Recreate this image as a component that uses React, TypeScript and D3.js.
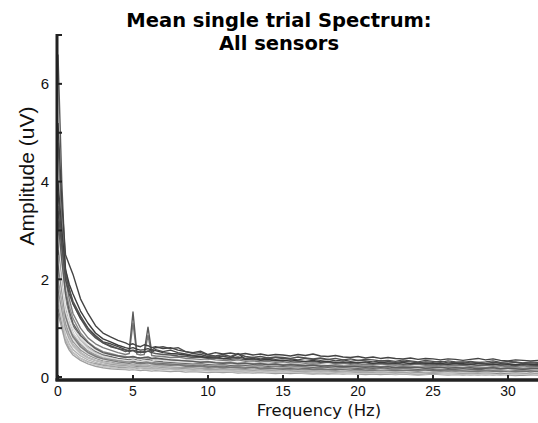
import React from "react";
import * as d3 from "d3";

const W = 538;
const H = 423;

const freqs: number[] = [
  0, 0.25, 0.5, 0.75, 1, 1.5, 2, 2.5, 3, 3.5, 4, 4.5, 4.75, 5, 5.25, 5.5, 5.75, 6, 6.25, 6.5,
  7, 7.5, 8, 8.5, 9, 9.5, 10, 10.5, 11, 11.5,
  12, 12.5, 13, 13.5, 14, 14.5, 15, 15.5, 16, 16.5,
  17, 17.5, 18, 18.5, 19, 19.5, 20, 20.5, 21, 21.5,
  22, 22.5, 23, 23.5, 24, 24.5, 25, 25.5, 26, 26.5,
  27, 27.5, 28, 28.5, 29, 29.5, 30, 30.5, 31, 31.5,
  32,
];

const s01 = [5.2, 3.6, 2.5, 2.3, 2.1, 1.6, 1.3, 1.05, 0.9, 0.82, 0.75, 0.7, 0.66, 0.68, 0.64, 0.62, 0.66, 0.64, 0.6, 0.62,
  0.58, 0.6, 0.55, 0.52, 0.5, 0.53, 0.46, 0.5, 0.47, 0.49,
  0.46, 0.48, 0.45, 0.47, 0.44, 0.46, 0.45, 0.43, 0.46, 0.44,
  0.47, 0.43, 0.42, 0.44, 0.41, 0.4, 0.42, 0.39, 0.41, 0.38,
  0.4, 0.38, 0.37, 0.39, 0.36, 0.38, 0.37, 0.35, 0.37, 0.36,
  0.34, 0.36, 0.38, 0.35, 0.37, 0.34, 0.33, 0.35, 0.34, 0.33, 0.34];
const s02 = [6.6, 4.0, 2.2, 1.8, 1.5, 1.2, 0.95, 0.8, 0.7, 0.62, 0.58, 0.52, 0.55, 1.33, 0.52, 0.5, 0.52, 1.02, 0.5, 0.48,
  0.46, 0.45, 0.43, 0.42, 0.4, 0.41, 0.38, 0.39, 0.37, 0.36,
  0.38, 0.35, 0.36, 0.34, 0.35, 0.33, 0.34, 0.32, 0.33, 0.31,
  0.32, 0.3, 0.31, 0.29, 0.3, 0.28, 0.3, 0.29, 0.27, 0.28,
  0.27, 0.29, 0.26, 0.27, 0.28, 0.26, 0.27, 0.25, 0.26, 0.27,
  0.25, 0.26, 0.24, 0.25, 0.27, 0.24, 0.25, 0.23, 0.25, 0.24, 0.23];
const s03 = [4.8, 3.2, 2.0, 1.6, 1.3, 1.0, 0.8, 0.68, 0.6, 0.55, 0.5, 0.46, 0.48, 1.1, 0.47, 0.45, 0.46, 0.85, 0.44, 0.43,
  0.42, 0.4, 0.41, 0.38, 0.37, 0.36, 0.37, 0.35, 0.34, 0.33,
  0.35, 0.32, 0.33, 0.31, 0.32, 0.3, 0.31, 0.29, 0.3, 0.28,
  0.29, 0.28, 0.3, 0.27, 0.28, 0.26, 0.27, 0.25, 0.26, 0.27,
  0.25, 0.26, 0.24, 0.25, 0.26, 0.24, 0.23, 0.25, 0.24, 0.23,
  0.24, 0.22, 0.23, 0.24, 0.22, 0.23, 0.21, 0.22, 0.23, 0.21, 0.22];
const s04 = [4.0, 3.0, 2.2, 1.9, 1.7, 1.35, 1.1, 0.9, 0.78, 0.72, 0.65, 0.6, 0.58, 0.6, 0.57, 0.55, 0.56, 0.58, 0.55, 0.54,
  0.5, 0.48, 0.47, 0.45, 0.43, 0.42, 0.4, 0.41, 0.38, 0.39,
  0.48, 0.36, 0.38, 0.35, 0.36, 0.34, 0.33, 0.35, 0.33, 0.32,
  0.34, 0.31, 0.32, 0.3, 0.31, 0.3, 0.29, 0.31, 0.28, 0.3,
  0.29, 0.28, 0.3, 0.27, 0.29, 0.28, 0.27, 0.28, 0.26, 0.28,
  0.27, 0.26, 0.28, 0.27, 0.25, 0.27, 0.26, 0.25, 0.27, 0.26, 0.25];
const s05 = [3.5, 2.6, 1.8, 1.45, 1.2, 0.9, 0.72, 0.6, 0.52, 0.48, 0.44, 0.42, 0.4, 0.41, 0.39, 0.38, 0.4, 0.39, 0.37, 0.38,
  0.36, 0.35, 0.34, 0.33, 0.32, 0.31, 0.32, 0.3, 0.29, 0.3,
  0.28, 0.29, 0.27, 0.28, 0.26, 0.27, 0.25, 0.26, 0.25, 0.24,
  0.26, 0.24, 0.23, 0.25, 0.23, 0.22, 0.24, 0.22, 0.23, 0.21,
  0.22, 0.23, 0.21, 0.22, 0.2, 0.21, 0.22, 0.2, 0.21, 0.2,
  0.19, 0.21, 0.2, 0.19, 0.2, 0.18, 0.19, 0.2, 0.18, 0.19, 0.18];
const s06 = [3.0, 2.3, 1.6, 1.25, 1.0, 0.75, 0.6, 0.5, 0.44, 0.4, 0.37, 0.35, 0.34, 0.36, 0.33, 0.32, 0.33, 0.34, 0.31, 0.32,
  0.3, 0.29, 0.28, 0.27, 0.26, 0.27, 0.25, 0.24, 0.25, 0.23,
  0.24, 0.22, 0.23, 0.21, 0.22, 0.2, 0.21, 0.2, 0.19, 0.21,
  0.19, 0.2, 0.18, 0.19, 0.18, 0.17, 0.19, 0.17, 0.18, 0.16,
  0.17, 0.18, 0.16, 0.17, 0.16, 0.15, 0.17, 0.16, 0.15, 0.16,
  0.15, 0.14, 0.16, 0.15, 0.14, 0.15, 0.13, 0.14, 0.15, 0.13, 0.14];
const s07 = [2.6, 2.0, 1.4, 1.1, 0.9, 0.68, 0.55, 0.47, 0.42, 0.38, 0.35, 0.33, 0.32, 0.33, 0.31, 0.3, 0.31, 0.32, 0.3, 0.29,
  0.28, 0.27, 0.26, 0.25, 0.24, 0.25, 0.23, 0.22, 0.23, 0.21,
  0.22, 0.21, 0.2, 0.21, 0.19, 0.2, 0.19, 0.18, 0.19, 0.18,
  0.17, 0.18, 0.17, 0.16, 0.17, 0.16, 0.15, 0.16, 0.15, 0.16,
  0.15, 0.14, 0.15, 0.14, 0.15, 0.14, 0.13, 0.14, 0.13, 0.14,
  0.13, 0.12, 0.13, 0.14, 0.12, 0.13, 0.12, 0.13, 0.12, 0.11, 0.12];
const s08 = [2.2, 1.7, 1.2, 0.95, 0.78, 0.6, 0.48, 0.41, 0.36, 0.33, 0.3, 0.28, 0.27, 0.28, 0.27, 0.26, 0.27, 0.27, 0.25, 0.26,
  0.24, 0.23, 0.22, 0.22, 0.21, 0.2, 0.21, 0.19, 0.2, 0.18,
  0.19, 0.18, 0.17, 0.18, 0.17, 0.16, 0.17, 0.16, 0.15, 0.16,
  0.15, 0.14, 0.15, 0.14, 0.13, 0.14, 0.13, 0.14, 0.12, 0.13,
  0.12, 0.13, 0.12, 0.11, 0.12, 0.11, 0.12, 0.11, 0.1, 0.11,
  0.1, 0.11, 0.1, 0.11, 0.1, 0.09, 0.1, 0.11, 0.1, 0.09, 0.1];
const s09 = [1.8, 1.4, 1.0, 0.8, 0.66, 0.5, 0.4, 0.34, 0.3, 0.27, 0.25, 0.24, 0.23, 0.24, 0.22, 0.22, 0.23, 0.22, 0.21, 0.22,
  0.2, 0.19, 0.19, 0.18, 0.17, 0.18, 0.16, 0.17, 0.16, 0.15,
  0.16, 0.15, 0.14, 0.15, 0.14, 0.13, 0.14, 0.13, 0.12, 0.13,
  0.12, 0.13, 0.12, 0.11, 0.12, 0.11, 0.1, 0.11, 0.1, 0.11,
  0.1, 0.09, 0.1, 0.09, 0.1, 0.09, 0.08, 0.09, 0.1, 0.09,
  0.08, 0.09, 0.08, 0.09, 0.08, 0.07, 0.08, 0.09, 0.08, 0.07, 0.08];
const s10 = [1.5, 1.2, 0.85, 0.68, 0.56, 0.43, 0.35, 0.3, 0.26, 0.24, 0.22, 0.21, 0.2, 0.21, 0.2, 0.19, 0.2, 0.19, 0.18, 0.19,
  0.17, 0.17, 0.16, 0.15, 0.15, 0.14, 0.15, 0.13, 0.14, 0.13,
  0.12, 0.13, 0.12, 0.11, 0.12, 0.11, 0.1, 0.11, 0.1, 0.11,
  0.1, 0.09, 0.1, 0.09, 0.1, 0.09, 0.08, 0.09, 0.08, 0.09,
  0.08, 0.07, 0.08, 0.07, 0.08, 0.07, 0.08, 0.07, 0.06, 0.07,
  0.06, 0.07, 0.06, 0.07, 0.06, 0.05, 0.06, 0.07, 0.06, 0.05, 0.06];
const s11 = [3.8, 2.8, 2.0, 1.7, 1.5, 1.2, 1.0, 0.85, 0.72, 0.68, 0.62, 0.56, 0.54, 0.55, 0.53, 0.5, 0.52, 0.53, 0.5, 0.56,
  0.52, 0.55, 0.5, 0.47, 0.44, 0.46, 0.42, 0.4, 0.43, 0.39,
  0.41, 0.38, 0.4, 0.37, 0.39, 0.36, 0.38, 0.37, 0.35, 0.38,
  0.36, 0.34, 0.36, 0.33, 0.35, 0.32, 0.34, 0.33, 0.31, 0.33,
  0.32, 0.3, 0.32, 0.31, 0.29, 0.31, 0.3, 0.32, 0.29, 0.3,
  0.31, 0.29, 0.3, 0.28, 0.3, 0.29, 0.28, 0.3, 0.28, 0.29, 0.28];
const s12 = [2.9, 2.2, 1.5, 1.2, 1.0, 0.8, 0.65, 0.55, 0.48, 0.45, 0.42, 0.4, 0.39, 0.4, 0.38, 0.37, 0.39, 0.4, 0.38, 0.44,
  0.4, 0.38, 0.36, 0.35, 0.33, 0.34, 0.32, 0.31, 0.33, 0.3,
  0.31, 0.29, 0.3, 0.28, 0.29, 0.27, 0.28, 0.26, 0.27, 0.25,
  0.26, 0.25, 0.24, 0.26, 0.24, 0.23, 0.25, 0.23, 0.24, 0.22,
  0.23, 0.22, 0.24, 0.22, 0.21, 0.23, 0.21, 0.22, 0.2, 0.21,
  0.22, 0.2, 0.21, 0.2, 0.19, 0.21, 0.2, 0.19, 0.2, 0.19, 0.2];
const s13 = [3.2, 2.4, 1.7, 1.35, 1.1, 0.85, 0.7, 0.58, 0.5, 0.46, 0.43, 0.4, 0.41, 0.42, 0.4, 0.39, 0.4, 0.41, 0.38, 0.39,
  0.37, 0.35, 0.34, 0.33, 0.32, 0.3, 0.31, 0.29, 0.28, 0.29,
  0.27, 0.28, 0.26, 0.27, 0.25, 0.26, 0.24, 0.25, 0.24, 0.23,
  0.24, 0.22, 0.23, 0.22, 0.21, 0.22, 0.21, 0.2, 0.21, 0.2,
  0.21, 0.19, 0.2, 0.19, 0.2, 0.18, 0.19, 0.2, 0.18, 0.19,
  0.18, 0.19, 0.17, 0.18, 0.19, 0.17, 0.18, 0.17, 0.16, 0.17, 0.18];
const s14 = [2.4, 1.9, 1.3, 1.05, 0.85, 0.65, 0.52, 0.44, 0.39, 0.36, 0.33, 0.31, 0.3, 0.31, 0.3, 0.29, 0.3, 0.3, 0.28, 0.29,
  0.27, 0.26, 0.25, 0.24, 0.23, 0.22, 0.23, 0.21, 0.22, 0.2,
  0.21, 0.2, 0.19, 0.2, 0.18, 0.19, 0.18, 0.17, 0.18, 0.17,
  0.16, 0.17, 0.16, 0.17, 0.15, 0.16, 0.15, 0.14, 0.15, 0.14,
  0.15, 0.14, 0.13, 0.14, 0.13, 0.14, 0.13, 0.12, 0.13, 0.12,
  0.13, 0.12, 0.11, 0.12, 0.13, 0.11, 0.12, 0.11, 0.12, 0.11, 0.12];
const s15 = [2.0, 1.6, 1.1, 0.88, 0.72, 0.55, 0.45, 0.38, 0.33, 0.31, 0.28, 0.27, 0.26, 0.27, 0.25, 0.25, 0.26, 0.25, 0.24, 0.25,
  0.23, 0.22, 0.21, 0.2, 0.2, 0.19, 0.18, 0.19, 0.17, 0.18,
  0.17, 0.16, 0.17, 0.16, 0.15, 0.16, 0.15, 0.14, 0.15, 0.14,
  0.14, 0.13, 0.14, 0.13, 0.12, 0.13, 0.12, 0.13, 0.12, 0.11,
  0.12, 0.11, 0.12, 0.11, 0.1, 0.11, 0.1, 0.11, 0.1, 0.1,
  0.11, 0.1, 0.09, 0.1, 0.09, 0.1, 0.09, 0.1, 0.09, 0.09, 0.1];
const s16 = [1.7, 1.3, 0.95, 0.75, 0.62, 0.47, 0.38, 0.33, 0.29, 0.26, 0.24, 0.23, 0.22, 0.23, 0.22, 0.21, 0.22, 0.21, 0.2, 0.21,
  0.19, 0.18, 0.18, 0.17, 0.16, 0.17, 0.15, 0.16, 0.15, 0.14,
  0.15, 0.14, 0.13, 0.14, 0.13, 0.12, 0.13, 0.12, 0.13, 0.12,
  0.11, 0.12, 0.11, 0.12, 0.11, 0.1, 0.11, 0.1, 0.11, 0.1,
  0.09, 0.1, 0.09, 0.1, 0.09, 0.1, 0.09, 0.08, 0.09, 0.08,
  0.09, 0.08, 0.09, 0.08, 0.07, 0.08, 0.09, 0.08, 0.07, 0.08, 0.08];
const s17 = [1.3, 1.0, 0.7, 0.55, 0.45, 0.34, 0.27, 0.22, 0.19, 0.17, 0.16, 0.15, 0.14, 0.15, 0.14, 0.13, 0.14, 0.13, 0.12, 0.13,
  0.12, 0.11, 0.12, 0.1, 0.11, 0.1, 0.09, 0.1, 0.09, 0.1,
  0.08, 0.09, 0.08, 0.09, 0.08, 0.07, 0.08, 0.07, 0.08, 0.07,
  0.06, 0.07, 0.06, 0.07, 0.06, 0.07, 0.06, 0.05, 0.06, 0.05,
  0.06, 0.05, 0.06, 0.05, 0.04, 0.05, 0.06, 0.05, 0.04, 0.05,
  0.04, 0.05, 0.04, 0.05, 0.04, 0.05, 0.04, 0.03, 0.04, 0.05, 0.04];
const s18 = [1.6, 1.2, 0.8, 0.62, 0.5, 0.38, 0.3, 0.25, 0.22, 0.2, 0.18, 0.17, 0.18, 0.17, 0.16, 0.17, 0.15, 0.16, 0.15, 0.16,
  0.14, 0.15, 0.13, 0.14, 0.12, 0.13, 0.12, 0.11, 0.12, 0.11,
  0.1, 0.11, 0.1, 0.11, 0.09, 0.1, 0.09, 0.1, 0.09, 0.08,
  0.09, 0.08, 0.09, 0.08, 0.07, 0.08, 0.07, 0.08, 0.07, 0.08,
  0.07, 0.06, 0.07, 0.06, 0.07, 0.06, 0.07, 0.06, 0.05, 0.06,
  0.06, 0.05, 0.06, 0.05, 0.06, 0.05, 0.06, 0.05, 0.06, 0.05, 0.05];
const s19 = [2.3, 1.8, 1.25, 1.0, 0.82, 0.62, 0.5, 0.42, 0.37, 0.34, 0.31, 0.29, 0.28, 0.3, 0.28, 0.27, 0.28, 0.29, 0.27, 0.26,
  0.25, 0.24, 0.25, 0.22, 0.21, 0.22, 0.2, 0.21, 0.19, 0.2,
  0.19, 0.18, 0.2, 0.17, 0.18, 0.17, 0.16, 0.17, 0.16, 0.17,
  0.15, 0.16, 0.15, 0.14, 0.16, 0.14, 0.15, 0.14, 0.13, 0.15,
  0.14, 0.13, 0.14, 0.13, 0.12, 0.14, 0.13, 0.12, 0.13, 0.12,
  0.13, 0.12, 0.11, 0.13, 0.12, 0.11, 0.12, 0.11, 0.12, 0.11, 0.12];
const s20 = [1.9, 1.5, 1.05, 0.82, 0.66, 0.5, 0.4, 0.34, 0.3, 0.28, 0.26, 0.25, 0.24, 0.25, 0.24, 0.23, 0.24, 0.23, 0.22, 0.23,
  0.21, 0.2, 0.21, 0.19, 0.18, 0.19, 0.17, 0.18, 0.16, 0.17,
  0.16, 0.15, 0.16, 0.14, 0.15, 0.14, 0.13, 0.14, 0.13, 0.14,
  0.12, 0.13, 0.12, 0.13, 0.11, 0.12, 0.11, 0.12, 0.11, 0.1,
  0.11, 0.1, 0.11, 0.1, 0.11, 0.1, 0.09, 0.1, 0.09, 0.1,
  0.09, 0.1, 0.09, 0.08, 0.09, 0.1, 0.09, 0.08, 0.09, 0.08, 0.09];
const s21 = [3.4, 2.7, 2.1, 1.8, 1.55, 1.25, 1.0, 0.82, 0.7, 0.64, 0.58, 0.55, 0.52, 0.54, 0.5, 0.52, 0.5, 0.53, 0.55, 0.6,
  0.62, 0.58, 0.6, 0.52, 0.48, 0.5, 0.45, 0.43, 0.46, 0.42,
  0.47, 0.42, 0.4, 0.42, 0.39, 0.41, 0.4, 0.38, 0.41, 0.39,
  0.37, 0.39, 0.36, 0.38, 0.35, 0.37, 0.34, 0.36, 0.35, 0.33,
  0.34, 0.32, 0.35, 0.33, 0.31, 0.34, 0.32, 0.3, 0.33, 0.31,
  0.3, 0.32, 0.3, 0.31, 0.33, 0.3, 0.32, 0.31, 0.29, 0.31, 0.3];
const s22 = [2.5, 1.9, 1.35, 1.1, 0.9, 0.7, 0.56, 0.48, 0.42, 0.39, 0.36, 0.34, 0.33, 0.35, 0.33, 0.32, 0.34, 0.33, 0.32, 0.35,
  0.34, 0.32, 0.31, 0.3, 0.29, 0.3, 0.28, 0.27, 0.28, 0.26,
  0.27, 0.26, 0.25, 0.26, 0.24, 0.25, 0.24, 0.23, 0.24, 0.23,
  0.22, 0.23, 0.22, 0.21, 0.22, 0.21, 0.2, 0.21, 0.2, 0.21,
  0.2, 0.19, 0.2, 0.19, 0.18, 0.2, 0.19, 0.18, 0.19, 0.18,
  0.17, 0.18, 0.19, 0.17, 0.18, 0.17, 0.16, 0.17, 0.18, 0.16, 0.17];
const s23 = [1.4, 1.1, 0.78, 0.6, 0.5, 0.38, 0.31, 0.27, 0.24, 0.22, 0.2, 0.19, 0.19, 0.2, 0.18, 0.18, 0.19, 0.18, 0.17, 0.18,
  0.16, 0.16, 0.15, 0.14, 0.14, 0.13, 0.14, 0.12, 0.13, 0.12,
  0.11, 0.12, 0.11, 0.1, 0.11, 0.1, 0.11, 0.09, 0.1, 0.09,
  0.09, 0.08, 0.09, 0.08, 0.09, 0.08, 0.07, 0.08, 0.07, 0.08,
  0.07, 0.08, 0.07, 0.06, 0.07, 0.06, 0.07, 0.06, 0.07, 0.06,
  0.06, 0.05, 0.06, 0.05, 0.06, 0.05, 0.06, 0.05, 0.04, 0.05, 0.05];
const s24 = [2.8, 2.1, 1.55, 1.25, 1.05, 0.8, 0.64, 0.53, 0.46, 0.42, 0.38, 0.36, 0.35, 0.37, 0.35, 0.34, 0.35, 0.36, 0.34, 0.33,
  0.31, 0.3, 0.29, 0.28, 0.27, 0.28, 0.26, 0.25, 0.26, 0.24,
  0.25, 0.24, 0.23, 0.24, 0.22, 0.23, 0.22, 0.21, 0.22, 0.21,
  0.2, 0.21, 0.2, 0.19, 0.2, 0.19, 0.18, 0.19, 0.18, 0.19,
  0.18, 0.17, 0.18, 0.17, 0.16, 0.17, 0.16, 0.17, 0.16, 0.15,
  0.16, 0.15, 0.16, 0.15, 0.14, 0.15, 0.16, 0.14, 0.15, 0.14, 0.15];

const sensors: number[][] = [
  s17, s23, s10, s18, s16, s09, s20, s15, s08, s14, s19, s07, s06, s24, s22, s12,
  s05, s13, s03, s02, s04, s11, s21, s01,
];
const shades = [
  "#a0a0a0", "#8c8c8c", "#b4b4b4", "#c4c4c4", "#cfcfcf", "#8a8a8a", "#bdbdbd", "#9a9a9a",
  "#d4d4d4", "#a6a6a6", "#7a7a7a", "#6e6e6e", "#c0c0c0", "#686868", "#dcdcdc", "#e6e6e6",
  "#8e8e8e", "#5c5c5c", "#7c7c7c", "#5a5a5a", "#3c3c3c", "#4a4a4a", "#505050", "#444444",
];

const yTicksMajor = [0, 2, 4, 6];
const yTicksMinor = [1, 3, 5, 7];
const xTicks = [0, 5, 10, 15, 20, 25, 30];

export default function App() {
  const x = d3.scaleLinear().domain([0, 32]).range([58, 538]);
  const y = d3.scaleLinear().domain([0, 7]).range([377, 35]);
  const line = d3
    .line<[number, number]>()
    .x((d) => x(d[0]))
    .y((d) => y(d[1]));

  const axisColor = "#222";
  const tickFont = "'Liberation Sans', Arial, sans-serif";
  const narrowFont = "'Liberation Sans Narrow', 'Liberation Sans', Arial, sans-serif";
  const labelFont = "'DejaVu Sans', Verdana, sans-serif";

  return (
    <svg
      width={W}
      height={H}
      style={{ position: "absolute", left: 0, top: 0, background: "#fff" }}
    >
      <text x={279} y={27} textAnchor="middle" fontFamily={labelFont} fontWeight="bold" fontSize={19.5} fill="#000">
        Mean single trial Spectrum:
      </text>
      <text x={279} y={50} textAnchor="middle" fontFamily={labelFont} fontWeight="bold" fontSize={19.5} fill="#000">
        All sensors
      </text>

      <g>
        {sensors.map((vals, i) => {
          const n = Math.min(vals.length, freqs.length);
          const pts: [number, number][] = [];
          for (let k = 0; k < n; k++) pts.push([freqs[k], vals[k]]);
          return (
            <path
              key={i}
              d={line(pts) || ""}
              fill="none"
              stroke={shades[i]}
              strokeWidth={1.4}
              strokeLinejoin="round"
            />
          );
        })}
      </g>

      {/* y axis */}
      <line x1={57} x2={57} y1={y(7) - 1} y2={381} stroke={axisColor} strokeWidth={3} />
      {yTicksMajor.concat(yTicksMinor).map((t) => (
        <line key={"yt" + t} x1={57} x2={62} y1={y(t)} y2={y(t)} stroke={axisColor} strokeWidth={2} />
      ))}
      {yTicksMajor.map((t) => (
        <text key={"yl" + t} x={49} y={y(t) + 5.5} textAnchor="end" fontFamily={tickFont} fontSize={15} fill="#111">
          {t}
        </text>
      ))}

      {/* x axis */}
      <line x1={55.5} x2={538} y1={380} y2={380} stroke={axisColor} strokeWidth={3.5} />
      {xTicks.map((t) => (
        <line key={"xt" + t} x1={x(t)} x2={x(t)} y1={380} y2={375} stroke={axisColor} strokeWidth={2} />
      ))}
      {xTicks.map((t) => (
        <text key={"xl" + t} x={x(t)} y={395.5} textAnchor="middle" fontFamily={narrowFont} fontSize={14} fill="#111">
          {t}
        </text>
      ))}

      <text x={319} y={416} textAnchor="middle" fontFamily={labelFont} fontSize={16.5} fill="#111">
        Frequency (Hz)
      </text>
      <text
        transform={`translate(26, 176) rotate(-90)`}
        textAnchor="middle"
        dominantBaseline="central"
        fontFamily={tickFont}
        fontSize={21}
        fill="#111"
      >
        Amplitude (uV)
      </text>
    </svg>
  );
}
